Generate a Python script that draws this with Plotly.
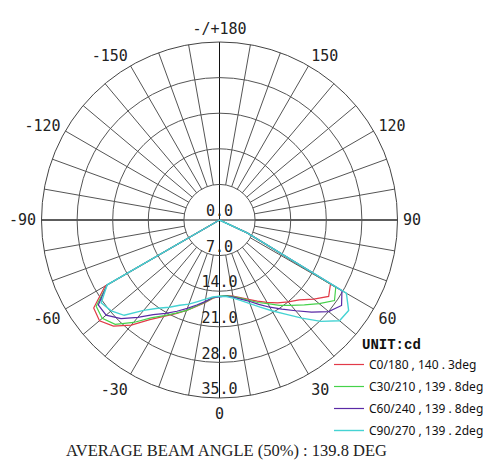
import plotly.graph_objects as go

# ---- data ----
angles = [-90, -80, -70, -65, -60, -55, -50, -45, -40, -35, -30, -25, -20, -15, -10, -5,
          0, 5, 10, 15, 20, 25, 30, 35, 40, 45, 50, 55, 60, 65, 70, 80, 90]

c0_180 = [0, 0, 0, 0, 26.0, 30.2, 30.8, 29.5, 27.0, 23.9, 21.9, 20.3, 18.9, 17.6, 16.5, 15.5,
          15.0, 14.9, 15.2, 15.8, 16.6, 17.6, 18.7, 19.9, 21.0, 22.2, 24.2, 26.2, 25.2, 6.0, 0, 0, 0]
c30_210 = [0, 0, 0, 0, 25.5, 29.6, 30.1, 29.0, 26.3, 23.5, 21.7, 20.2, 18.9, 17.5, 16.4, 15.4,
           15.0, 14.9, 15.3, 15.9, 16.8, 17.9, 19.0, 20.5, 21.9, 23.6, 25.6, 27.6, 26.4, 6.0, 0, 0, 0]
c60_240 = [0, 0, 0, 0, 25.5, 29.1, 29.1, 27.4, 25.0, 22.7, 21.2, 19.8, 18.5, 17.3, 16.3, 15.3,
           15.1, 15.0, 15.4, 16.1, 17.0, 18.3, 19.8, 21.4, 23.3, 25.6, 28.0, 29.3, 27.8, 6.0, 0, 0, 0]
c90_270 = [0, 0, 0, 0, 25.5, 28.4, 27.8, 26.5, 23.2, 21.2, 19.8, 18.5, 17.6, 16.6, 15.8, 15.2,
           15.0, 15.1, 15.6, 16.4, 17.5, 18.9, 20.6, 22.6, 25.2, 28.2, 30.8, 31.0, 28.8, 6.0, 0, 0, 0]

series_names = ["C0/180 , 140 . 3deg", "C30/210 , 139 . 8deg",
                "C60/240 , 139 . 8deg", "C90/270 , 139 . 2deg"]
series_colors = ["#e23a48", "#45d24a", "#5a2aa6", "#45d3d3"]

radial_ticks = [0, 7, 14, 21, 28, 35]
radial_labels = ["0.0", "7.0", "14.0", "21.0", "28.0", "35.0"]

angle_tick_vals = [0, 30, 60, 90, 120, 150, 180, 210, 240, 270, 300, 330]
angle_tick_labels = ["0", "30", "60", "90", "120", "150", "-/+180",
                     "-150", "-120", "-90", "-60", "-30"]
grid_step = 10

unit_label = "UNIT:cd"
footer = "AVERAGE BEAM ANGLE (50%) : 139.8 DEG"

# ---- figure ----
W, H = 484, 452   # page body adds an 8px margin

fig = go.Figure()

# empty trace to materialise the grid layer subplot
fig.add_trace(go.Scatterpolar(r=[], theta=[], subplot="polar", showlegend=False,
                              hoverinfo="skip"))

for i, (name, color, vals) in enumerate(zip(series_names, series_colors,
                                            [c0_180, c30_210, c60_240, c90_270])):
    fig.add_trace(go.Scatterpolar(
        r=vals, theta=angles, mode="lines", name=name, subplot="polar2",
        legendgroup=f"g{i}",
        line=dict(color=color, width=1.4 if i == 3 else 1.2),
    ))

fig.add_trace(go.Scatterpolar(
    r=radial_ticks, theta=[0] * len(radial_ticks), mode="text", text=radial_labels,
    textposition="top center", subplot="polar2", showlegend=False, hoverinfo="skip",
    textfont=dict(family="DejaVu Sans Mono", size=15, color="#222"),
))

grid_vals = list(range(0, 360, grid_step))
label_map = dict(zip(angle_tick_vals, angle_tick_labels))
grid_text = [label_map.get(v, "") for v in grid_vals]

cx, cy, R = 211.5, 212, 178
dom_x = [(cx - R) / W, (cx + R) / W]
dom_y = [1 - (cy + R) / H, 1 - (cy - R) / H]

fig.update_layout(
    width=W, height=H,
    margin=dict(l=0, r=0, t=0, b=0),
    paper_bgcolor="white",
    polar=dict(
        domain=dict(x=dom_x, y=dom_y),
        hole=0.2,
        bgcolor="white",
        radialaxis=dict(range=[7, 35], visible=False, showgrid=False),
        angularaxis=dict(
            rotation=270, direction="counterclockwise",
            tickmode="array", tickvals=grid_vals, ticktext=grid_text,
            showgrid=True, gridcolor="#555", gridwidth=1,
            showline=False, ticks="outside", ticklen=2, tickcolor="rgba(0,0,0,0)",
            tickfont=dict(family="DejaVu Sans Mono", size=15, color="#222"),
        ),
    ),
    polar2=dict(
        domain=dict(x=dom_x, y=dom_y),
        bgcolor="rgba(0,0,0,0)",
        radialaxis=dict(range=[0, 35], tickmode="array", tickvals=[7, 14, 21, 28],
                        showticklabels=False, ticks="", showline=False,
                        showgrid=True, gridcolor="#555", gridwidth=1),
        angularaxis=dict(
            rotation=270, direction="counterclockwise",
            tickmode="array", tickvals=[0, 90, 180, 270],
            showticklabels=False, ticks="",
            showgrid=True, gridcolor="#111", gridwidth=1,
            showline=True, linecolor="#444", linewidth=1,
        ),
    ),
    showlegend=True,
    legend=dict(
        x=321 / W, xanchor="left", y=1 - 342 / H, yanchor="top",
        bgcolor="rgba(0,0,0,0)",
        font=dict(family="Noto Sans", size=12, color="#111"),
        traceorder="grouped", tracegroupgap=3,
    ),
    annotations=[
        dict(text="<b>" + unit_label + "</b>", xref="paper", yref="paper",
             x=383 / W, y=1 - 337 / H, xanchor="center", yanchor="middle",
             showarrow=False,
             font=dict(family="Liberation Mono", size=14, color="#111")),
        dict(text=footer, xref="paper", yref="paper", x=218 / W, y=1 - 442 / H,
             xanchor="center", yanchor="middle", showarrow=False,
             font=dict(family="Liberation Serif", size=16.5, color="#222")),
    ],
)

fig.write_html("out.html")
